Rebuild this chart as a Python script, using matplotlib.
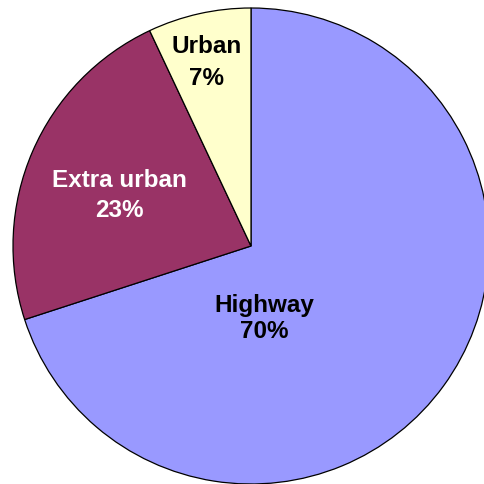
import matplotlib
matplotlib.use("Agg")
import matplotlib.pyplot as plt

categories = ["Highway", "Extra urban", "Urban"]
values = [70, 23, 7]
colors = ["#9999FF", "#993366", "#FFFFCC"]
text_colors = ["black", "white", "black"]

W = H = 485
CX, CY, R = 251, 247, 238

fig = plt.figure(figsize=(W / 100, H / 100), dpi=100)
ax = fig.add_axes([0, 0, 1, 1])
ax.pie(values, colors=colors, startangle=90, counterclock=False,
       radius=1.0, center=(0, 0),
       wedgeprops=dict(edgecolor="black", linewidth=0.9))
ax.set_xlim(-CX / R, (W - CX) / R)
ax.set_ylim(-(H - CY) / R, CY / R)
ax.set_aspect("auto")
ax.axis("off")

def px(x, y):
    return (x - CX) / R, (CY - y) / R

# label placements in pixel coordinates: (center x, baseline line1, baseline line2)
placements = [(264.5, 311.7, 338.0), (119.0, 186.7, 216.7), (207.0, 53.3, 85.0)]
for name, v, tc, (x, b1, b2) in zip(categories, values, text_colors, placements):
    for txt, b in ((name, b1), (f"{v}%", b2)):
        xx, yy = px(x, b)
        ax.text(xx, yy, txt, ha="center", va="baseline", color=tc,
                fontsize=17.5, fontweight="bold", family="Liberation Sans")

fig.savefig("out.png", dpi=100)
